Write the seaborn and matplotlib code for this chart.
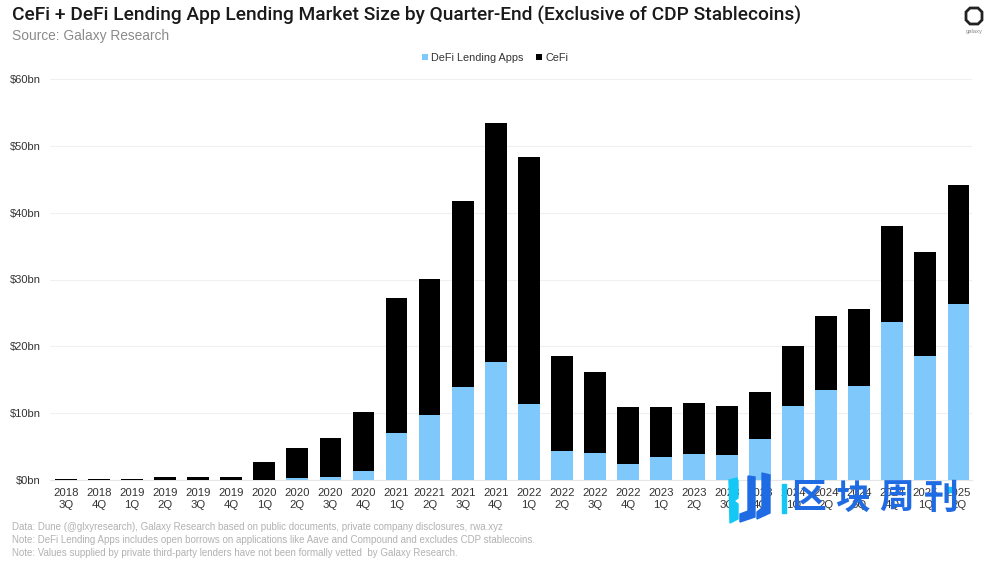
import numpy as np
import pandas as pd
import matplotlib
matplotlib.use("Agg")
import matplotlib.pyplot as plt
from matplotlib.patches import Polygon
import seaborn as sns

quarters = ["2018\n3Q", "2018\n4Q", "2019\n1Q", "2019\n2Q", "2019\n3Q", "2019\n4Q", "2020\n1Q",
            "2020\n2Q", "2020\n3Q", "2020\n4Q", "2021\n1Q", "20221\n2Q", "2021\n3Q", "2021\n4Q",
            "2022\n1Q", "2022\n2Q", "2022\n3Q", "2022\n4Q", "2023\n1Q", "2023\n2Q", "2023\n3Q",
            "2023\n4Q", "2024\n1Q", "2024\n2Q", "2024\n3Q", "2024\n4Q", "2025\n1Q", "2025\n2Q"]
defi = [0, 0, 0, 0, 0, 0, 0, 0.3, 0.4, 1.3, 7.0, 9.7, 13.9, 17.7,
        11.3, 4.3, 4.0, 2.4, 3.4, 3.9, 3.7, 6.1, 11.0, 13.4, 14.0, 23.6, 18.6, 26.4]
cefi = [0.1, 0.1, 0.15, 0.4, 0.4, 0.5, 2.7, 4.5, 5.9, 8.9, 20.2, 20.4, 27.9, 35.7,
        37.0, 14.3, 12.1, 8.5, 7.5, 7.6, 7.4, 7.1, 9.0, 11.2, 11.6, 14.4, 15.5, 17.8]
yticks = [0, 10, 20, 30, 40, 50, 60]
watermark = ["区", "块", "周", "刊"]

W, H = 990, 564
sns.set_theme(style="white")
plt.rcParams["font.family"] = ["Liberation Sans", "DejaVu Sans"]

df = pd.DataFrame({"quarter": quarters, "defi": defi, "cefi": cefi})


def fx(x):
    return x / W


def fy(y):
    return 1 - y / H


def shape(xs, ys, **kw):
    # polygon given in picture pixels
    pts = np.column_stack([[fx(v) for v in xs], [fy(v) for v in ys]])
    fig.add_artist(Polygon(pts, closed=True, transform=fig.transFigure, zorder=10, **kw))


fig = plt.figure(figsize=(W / 100, H / 100), dpi=100)
ax = fig.add_axes([fx(50), fy(480), fx(922), (480 - 79) / H])

sns.barplot(data=df, x="quarter", y="defi", color="#7fc8fb", width=0.66, saturation=1,
            linewidth=0, label="DeFi Lending Apps", ax=ax, zorder=3)
sns.barplot(data=df, x="quarter", y="cefi", bottom=df["defi"], color="#000000", width=0.66,
            saturation=1, linewidth=0, label="CeFi", ax=ax, zorder=3)

ax.set_xlim(-0.484, 27.41)
ax.set_ylim(0, 60)
ax.set_yticks(yticks)
ax.set_yticklabels([f"${v}bn" for v in yticks])
ax.set_xlabel("")
ax.set_ylabel("")
ax.grid(axis="y", color="#f0f0f0", linewidth=0.8, zorder=0)
ax.tick_params(axis="x", length=0, pad=6, labelsize=8.2, labelcolor="#333333")
ax.tick_params(axis="y", length=0, pad=6.5, labelsize=8, labelcolor="#333333")
for lab in ax.get_xticklabels():
    lab.set_linespacing(1.25)
sns.despine(ax=ax, left=True, right=True, top=True, bottom=False)
ax.spines["bottom"].set_color("#e6e6e6")
ax.spines["bottom"].set_linewidth(0.8)
ax.spines["bottom"].set_zorder(1)

ax.legend(loc="center", bbox_to_anchor=(fx(495), fy(58)), bbox_transform=fig.transFigure,
          ncol=2, frameon=False, fontsize=7.8, handlelength=0.55, handleheight=0.55,
          handletextpad=0.35, columnspacing=1.1, labelcolor="#333333")

fig.text(fx(12), fy(15), "CeFi + DeFi Lending App Lending Market Size by Quarter-End (Exclusive of CDP Stablecoins)",
         fontsize=13.8, fontweight="medium", color="#1a1a1a", va="center", family=["Roboto", "DejaVu Sans"])
fig.text(fx(12), fy(36), "Source: Galaxy Research", fontsize=9.9, color="#8a8a8a", va="center")

notes = ["Data: Dune (@glxyresearch), Galaxy Research based on public documents, private company disclosures, rwa.xyz",
         "Note: DeFi Lending Apps includes open borrows on applications like Aave and Compound and excludes CDP stablecoins.",
         "Note: Values supplied by private third-party lenders have not been formally vetted  by Galaxy Research."]
for y, note in zip([527, 540, 553], notes):
    fig.text(fx(12), fy(y), note, fontsize=7, color="#b2b2b2", va="center")

# galaxy logo, top right
shape([970, 978, 982, 982, 978, 970, 966, 966], [8, 8, 12, 20, 24, 24, 20, 12],
      fill=False, edgecolor="#222222", linewidth=2)
fig.text(fx(974), fy(31), "galaxy", fontsize=4.2, color="#888888", ha="center", va="center")

# watermark over the tick labels
blue = "#1f6be3"
cyan = "#14c8f5"
shape([729, 737, 738, 738, 734, 738, 738, 730], [480, 478, 481, 498, 501, 504, 519, 523], color=cyan)
shape([748, 755, 755, 740, 740, 748], [476, 477, 517, 522, 514, 511], color=blue)
shape([762, 770, 770, 757, 757, 762], [473, 475, 513, 519, 512, 508], color=blue)
shape([782, 786, 786, 782], [484, 484, 513, 513], color=cyan)
for x, ch in zip([809, 853, 897, 941], watermark):
    fig.text(fx(x), fy(498), ch, fontsize=25, fontweight="bold", color=blue, ha="center", va="center",
             family=["Noto Sans CJK SC", "DejaVu Sans"], zorder=10)
shape([948, 952, 952, 948], [487, 487, 492, 492], color=cyan)

fig.savefig("out.png", dpi=100, facecolor="white")
